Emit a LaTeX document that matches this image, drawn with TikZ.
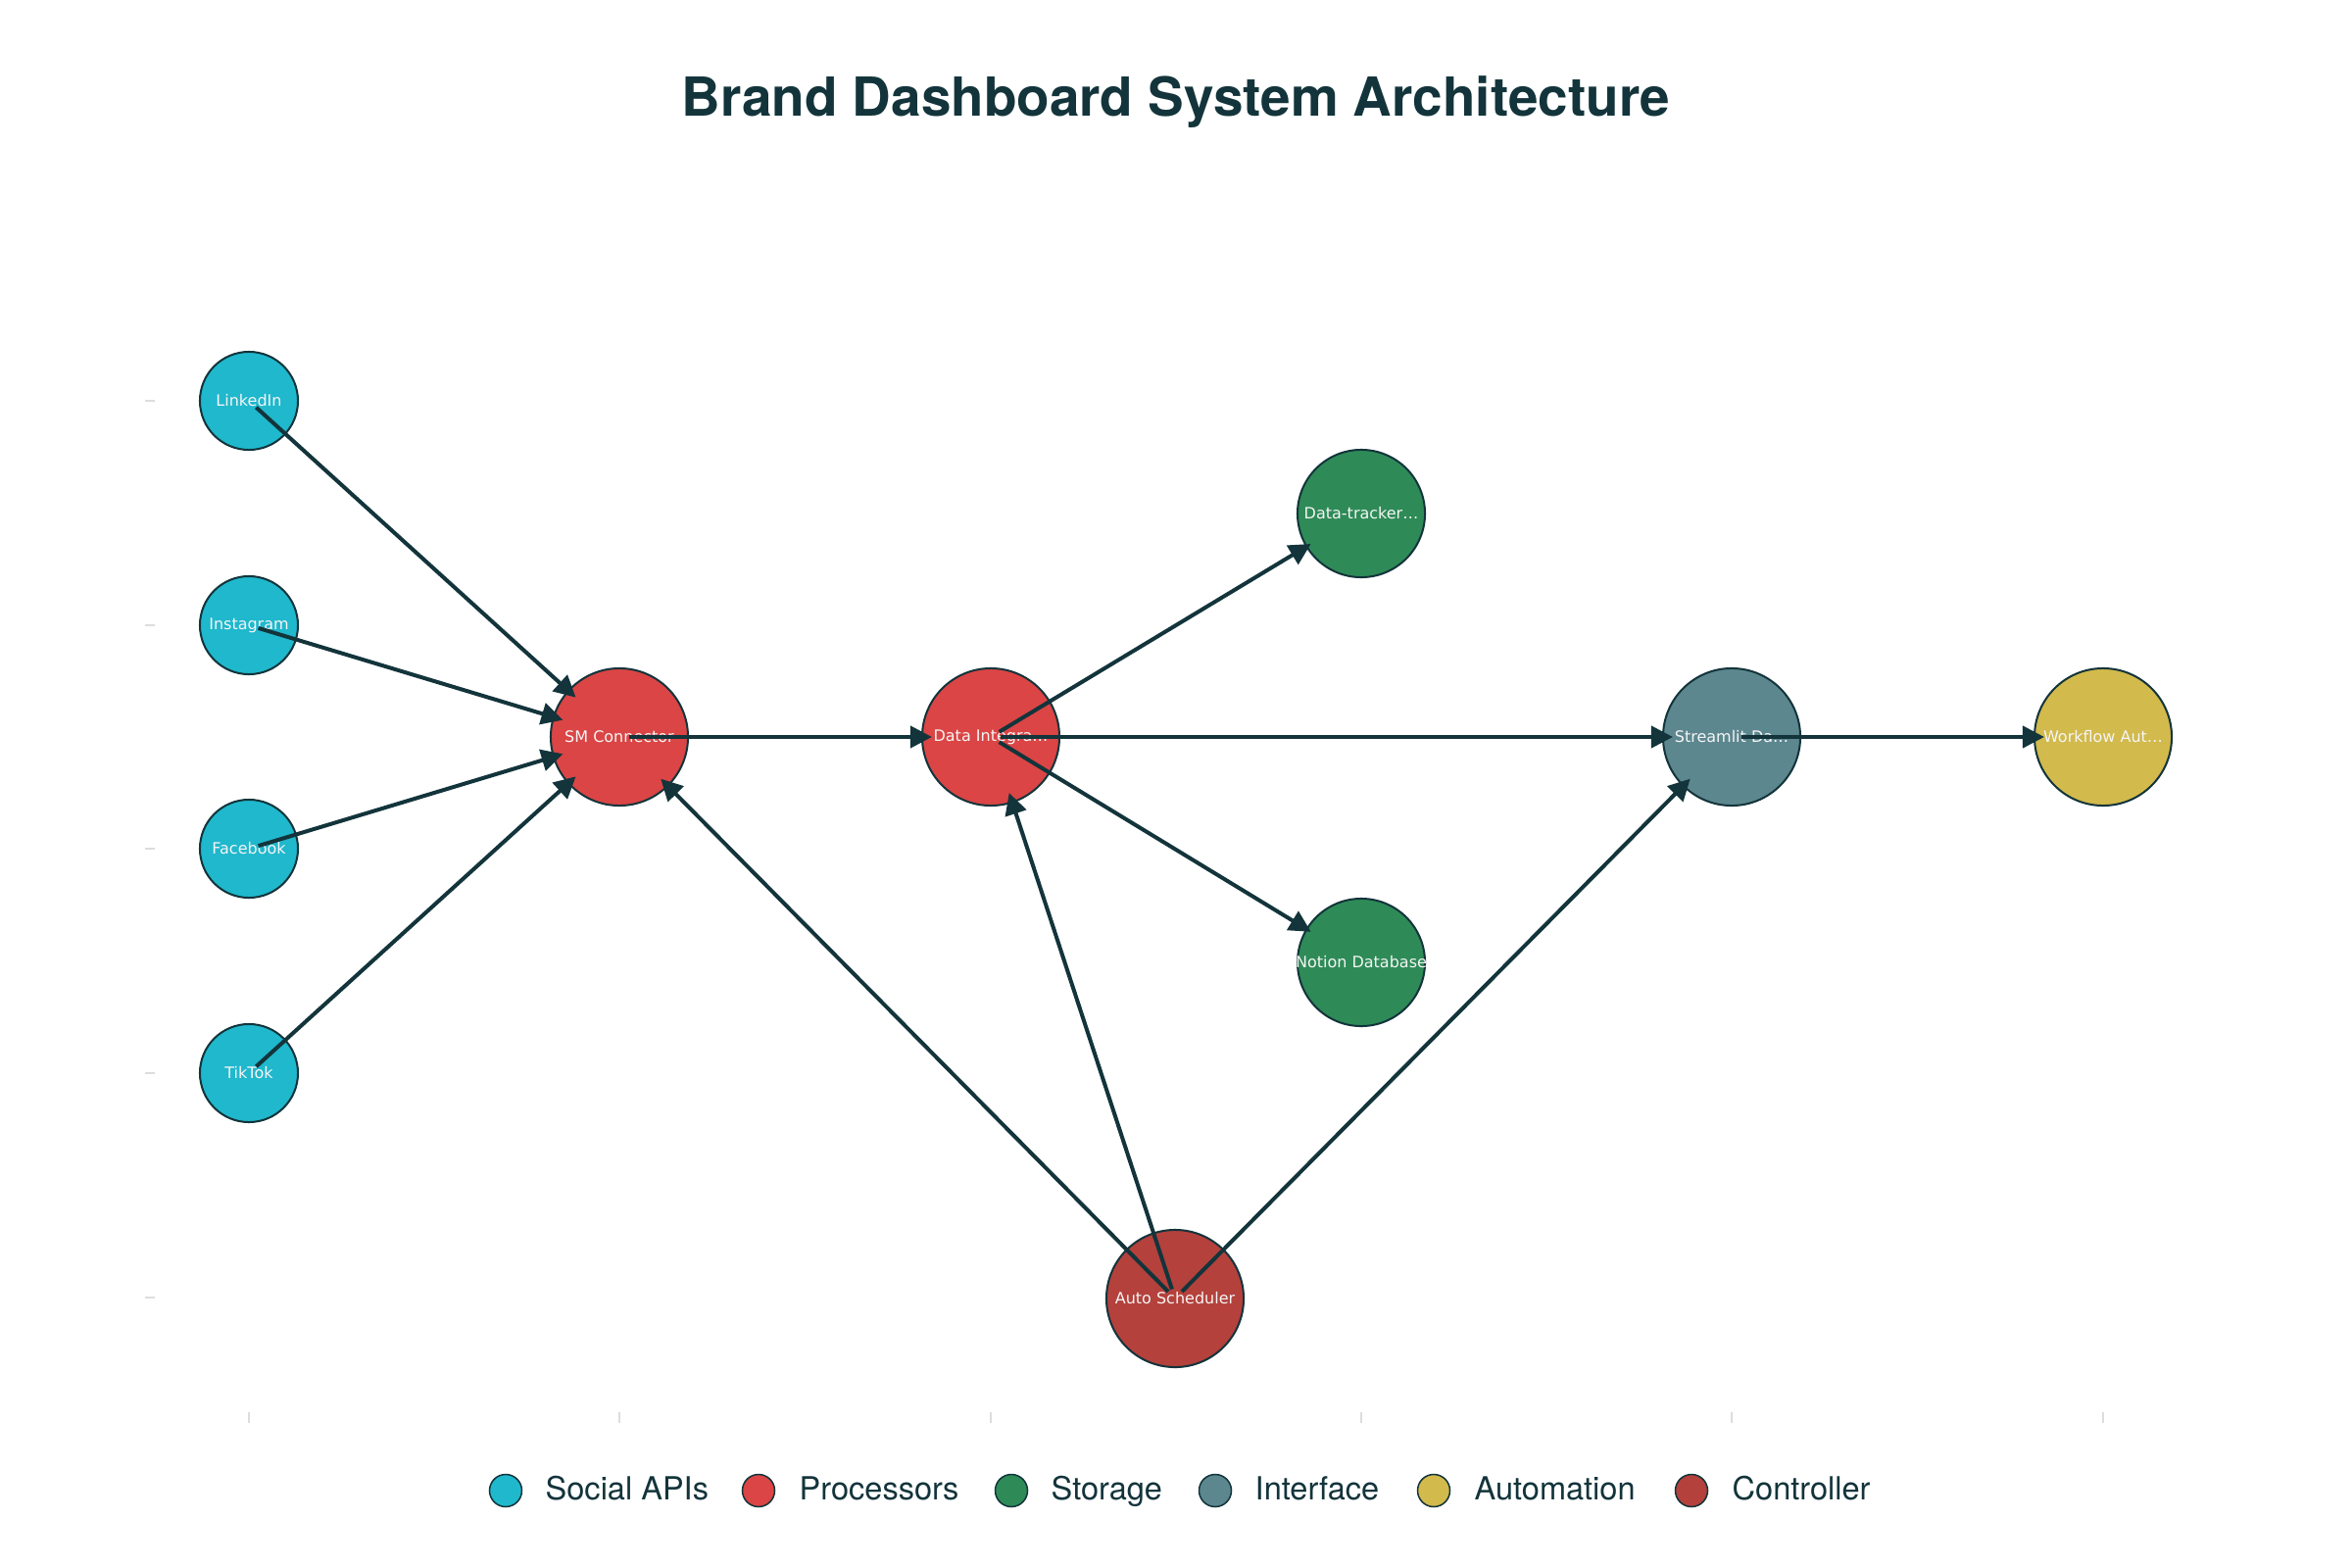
\documentclass[tikz,border=0pt]{standalone}
\usepackage{fontspec}
\setmainfont{TeX Gyre Heros}
\newfontfamily\dejavu{DejaVu Sans}
\usetikzlibrary{arrows.meta,calc}
\definecolor{ink}{HTML}{13343B}
\definecolor{social}{HTML}{1FB8CD}
\definecolor{proc}{HTML}{DB4545}
\definecolor{store}{HTML}{2E8B57}
\definecolor{iface}{HTML}{5D878F}
\definecolor{auto}{HTML}{D2BA4C}
\definecolor{ctrl}{HTML}{B4413C}
\definecolor{tickc}{HTML}{DDDDDD}
\begin{document}
\begin{tikzpicture}[x=0.01cm,y=-0.01cm,
  nd/.style={circle,draw=ink,line width=0.02cm,inner sep=0pt,outer sep=0pt},
  smallnd/.style={nd,minimum size=1cm},
  bignd/.style={nd,minimum size=1.4cm},
  midnd/.style={nd,minimum size=1.3cm},
  lbl/.style={font=\dejavu\fontsize{4.55}{5}\selectfont,text=white!96!black,inner sep=0pt},
  conn/.style={draw=ink,line width=0.04cm,-{Triangle[length=0.22cm,width=0.22cm]},shorten <=0.1cm},
  tobig/.style={conn,shorten >=-0.1cm},
  tomid/.style={conn,shorten >=-0.05cm},
  legdot/.style={circle,draw=ink,line width=0.015cm,minimum size=0.33cm,inner sep=0pt},
  legtxt/.style={anchor=mid west,inner sep=0pt,font=\fontsize{9.25}{11}\selectfont,text=ink},
  tickline/.style={draw=tickc,line width=0.015cm}
]
\fill[white] (0,0) rectangle (2400,1600);
\useasboundingbox (0,0) rectangle (2400,1600);

% title
\node[font=\bfseries\fontsize{15.6}{18}\selectfont,text=ink,anchor=mid] (title) at (1200,109) {Brand Dashboard System Architecture};

% ticks
\foreach \yy in {409,638,866,1095,1324} \draw[tickline] (148,\yy) -- (158,\yy);
\foreach \xx in {254,632,1011,1389,1767,2146} \draw[tickline] (\xx,1441) -- (\xx,1452);

% nodes
\node[smallnd,fill=social] (ln) at (254,409) {};
\node[lbl] (lnt) at (ln) {LinkedIn};
\node[smallnd,fill=social] (ig) at (254,638) {};
\node[lbl] (igt) at (ig) {Instagram};
\node[smallnd,fill=social] (fb) at (254,866) {};
\node[lbl] (fbt) at (fb) {Facebook};
\node[smallnd,fill=social] (tt) at (254,1095) {};
\node[lbl] (ttt) at (tt) {TikTok};

\node[bignd,fill=proc] (sm) at (632,752) {};
\node[lbl] (smt) at (sm) {SM Connector};
\node[bignd,fill=proc] (di) at (1011,752) {};
\node[lbl] (dit) at (di) {Data Integra…};

\node[midnd,fill=store] (dt) at (1389,524) {};
\node[lbl] (dtt) at (dt) {Data-tracker…};
\node[midnd,fill=store] (nd) at (1389,982) {};
\node[lbl] (ndt) at (nd) {Notion Database};

\node[bignd,fill=iface] (st) at (1767,752) {};
\node[lbl] (stt) at (st) {Streamlit Da…};
\node[bignd,fill=auto] (wf) at (2146,752) {};
\node[lbl] (wft) at (wf) {Workflow Aut…};

\node[bignd,fill=ctrl] (as) at (1199,1325) {};
\node[lbl] (ast) at (as) {Auto Scheduler};

% connectors
\draw[tobig] (ln.center) -- (sm);
\draw[tobig] (ig.center) -- (sm);
\draw[tobig] (fb.center) -- (sm);
\draw[tobig] (tt.center) -- (sm);
\draw[tobig] (sm.center) -- (di);
\draw[tomid] (di.center) -- (dt);
\draw[tobig] (di.center) -- (st);
\draw[tomid] (di.center) -- (nd);
\draw[tobig] (st.center) -- (wf);
\draw[tobig] (as.center) -- (sm);
\draw[tobig] (as.center) -- (di);
\draw[tobig] (as.center) -- (st);

% legend
\node[legdot,fill=social] (l1) at (516,1521) {};
\node[legtxt] (l1t) at (556,1521) {Social APIs};
\node[legdot,fill=proc] (l2) at (774,1521) {};
\node[legtxt] (l2t) at (815,1521) {Processors};
\node[legdot,fill=store] (l3) at (1032,1521) {};
\node[legtxt] (l3t) at (1072,1521) {Storage};
\node[legdot,fill=iface] (l4) at (1240,1521) {};
\node[legtxt] (l4t) at (1280,1521) {Interface};
\node[legdot,fill=auto] (l5) at (1463,1521) {};
\node[legtxt] (l5t) at (1504,1521) {Automation};
\node[legdot,fill=ctrl] (l6) at (1726,1521) {};
\node[legtxt] (l6t) at (1767,1521) {Controller};
\end{tikzpicture}
\end{document}
